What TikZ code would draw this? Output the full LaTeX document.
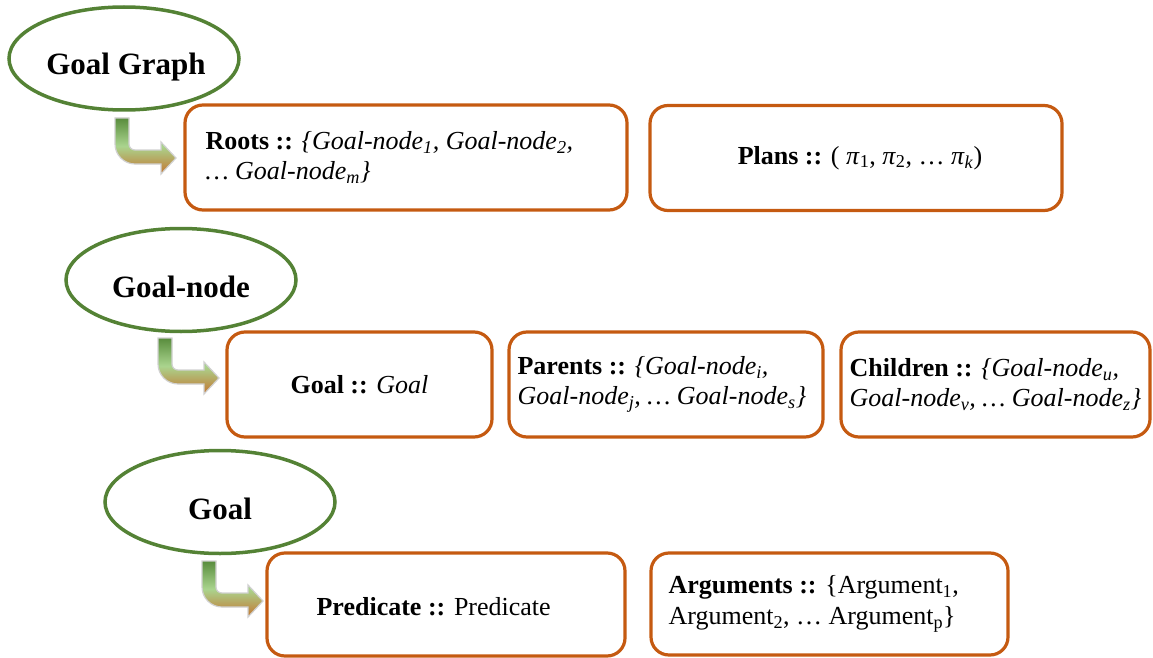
\documentclass[tikz,border=0pt]{standalone}
\usepackage{fontspec}
\setmainfont{Liberation Serif}
\usetikzlibrary{shapes.geometric,calc}

\definecolor{leafgreen}{RGB}{84,130,53}
\definecolor{rust}{RGB}{197,90,17}
\definecolor{arrowtop}{RGB}{88,140,60}
\definecolor{arrowmid}{RGB}{170,212,142}
\definecolor{arrowbot}{RGB}{196,118,48}

\tikzset{
  concept/.style={ellipse, draw=leafgreen, line width=3.5pt,
    minimum width=230pt, minimum height=103pt, inner sep=0pt},
  conceptlabel/.style={anchor=base, inner sep=0pt,
    font=\fontsize{31}{36}\selectfont\bfseries},
  field/.style={draw=rust, line width=3.2pt, rounded corners=18pt,
    minimum height=105pt, inner sep=0pt},
  fieldtext/.style={anchor=west, align=left, inner sep=0pt,
    font=\fontsize{26}{30.5}\selectfont},
  % bent arrow leading from a concept to its first field
  pics/bentarrow/.style={code={
    \shadedraw[top color=arrowtop, bottom color=arrowbot, middle color=arrowmid,
      draw=black!18, line width=1.2pt]
      (0,0) -- (14,0) -- (14,26) .. controls (14,29.3) and (16.7,32) .. (20,32)
      -- (46,32) -- (46,24) -- (61,40) -- (46,56) -- (46,46) -- (20,46)
      .. controls (9,46) and (0,37) .. (0,26) -- cycle;
  }}
}

\begin{document}
\begin{tikzpicture}[x=1pt, y=-1pt]
\useasboundingbox (0,0) rectangle (1153,658);

% ---- Goal Graph ----
\node[concept] (graph) at (124,58.5) {};
\node[conceptlabel] (graphT) at ($(graph.center)+(2,16.5)$) {Goal Graph};
\pic (arrowA) at (115,118) {bentarrow};

\node[field, minimum width=442pt] (roots) at (406,157.5) {};
\node[fieldtext] (rootsT) at ($(roots.west)+(22,0)$)
  {\textbf{Roots ::} \textit{\{Goal-node\textsubscript{1}, Goal-node\textsubscript{2},}\\
   \textit{… Goal-node\textsubscript{m}\}}};

\node[field, minimum width=412pt] (plans) at (856,158) {};
\node[fieldtext, anchor=center] (plansT) at ($(plans.center)+(4,0)$)
  {\textbf{Plans ::} ( \textit{π}\textsubscript{1}, \textit{π}\textsubscript{2}, … \textit{π}\textsubscript{\textit{k}})};

% ---- Goal-node ----
\node[concept] (gnode) at (181,280) {};
\node[conceptlabel] (gnodeT) at ($(gnode.center)+(0,17.5)$) {Goal-node};
\pic (arrowB) at (158,338) {bentarrow};

\node[field, minimum width=265pt] (goal) at (359.5,384.5) {};
\node[fieldtext, anchor=center] (goalT) at (goal.center)
  {\textbf{Goal ::} \textit{Goal}};

\node[field, minimum width=314pt] (parents) at (666,384.5) {};
\node[fieldtext] (parentsT) at ($(parents.west)+(10,0)$)
  {\textbf{Parents ::} \textit{\{Goal-node\textsubscript{i},}\\
   \textit{Goal-node\textsubscript{j}, … Goal-node\textsubscript{s}\}}};

\node[field, minimum width=309pt] (children) at (995.5,384.5) {};
\node[fieldtext] (childrenT) at ($(children.west)+(10,0)$)
  {\textbf{Children ::} \textit{\{Goal-node\textsubscript{u},}\\
   \textit{Goal-node\textsubscript{v}, … Goal-node\textsubscript{z}\}}};

% ---- Goal ----
\node[concept] (goalc) at (220,502) {};
\node[conceptlabel] (goalcT) at ($(goalc.center)+(0,17.5)$) {Goal};
\pic (arrowC) at (202,561) {bentarrow};

\node[field, minimum width=358pt, minimum height=103pt] (pred) at (446,604.5) {};
\node[fieldtext] (predT) at ($(pred.west)+(51,2)$)
  {\textbf{Predicate ::} Predicate};

\node[field, minimum width=357pt, minimum height=102pt] (args) at (829.5,604) {};
\node[fieldtext] (argsT) at ($(args.west)+(19,0)$)
  {\textbf{Arguments ::} \{Argument\textsubscript{1},\\
   Argument\textsubscript{2}, … Argument\textsubscript{p}\}};
\end{tikzpicture}
\end{document}
